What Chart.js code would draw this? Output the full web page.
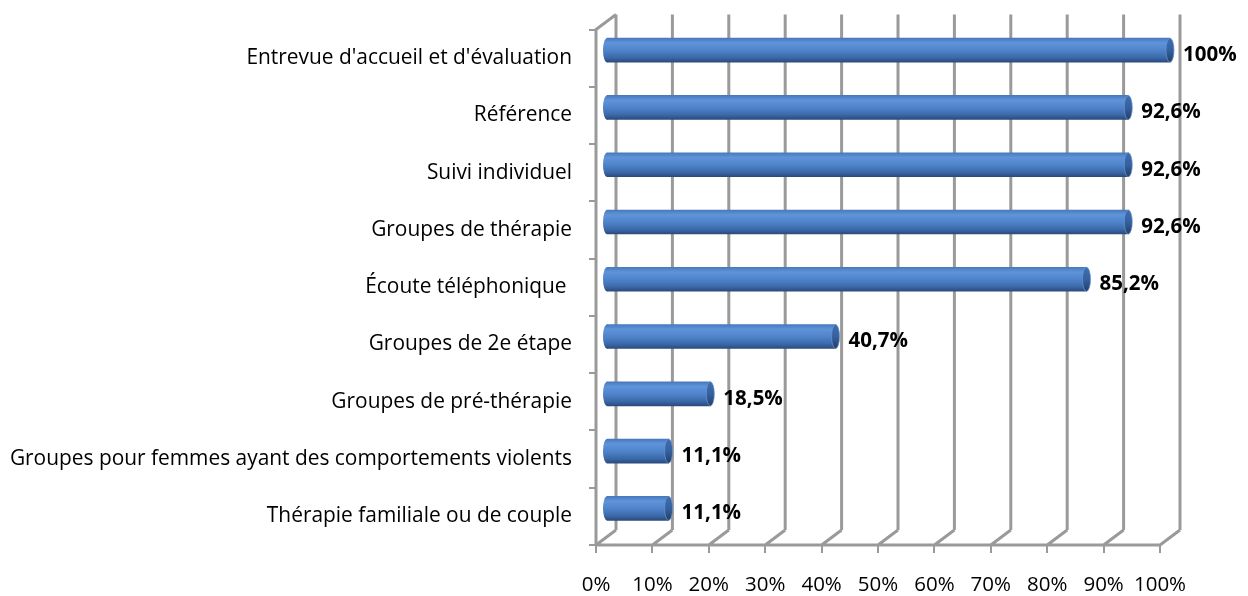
<!DOCTYPE html>
<html>
<head>
<meta charset="utf-8">
<script src="https://cdn.jsdelivr.net/npm/chart.js@4"></script>
<style>
  html, body { margin: 0; padding: 0; background: #fff; }
  canvas { display: block; }
</style>
</head>
<body>
<canvas id="chart" width="1248" height="596"></canvas>
<script>
// categories (top to bottom) and percentages
const categories = [
    "Entrevue d'accueil et d'évaluation",
    "Référence",
    "Suivi individuel",
    "Groupes de thérapie",
    "Écoute téléphonique ",
    "Groupes de 2e étape",
    "Groupes de pré-thérapie",
    "Groupes pour femmes ayant des comportements violents",
    "Thérapie familiale ou de couple"
];
const values = [100, 92.6, 92.6, 92.6, 85.2, 40.7, 18.5, 11.1, 11.1];
const xTickLabels = ['0%', '10%', '20%', '30%', '40%', '50%', '60%', '70%', '80%', '90%', '100%'];

// perspective offsets of the fake 3d frame
const DEPTH_X = 20, DEPTH_Y = -15;   // back wall
const BAR_X = 10, BAR_Y = -8;        // bars sit half way in

const FONT = '"Open Sans", sans-serif';
const BAR_H = 24;

const fmt = (v) => (v === 100 ? '100' : v.toFixed(1).replace('.', ',')) + '%';

const gradient = (ctx, top, h, stops) => {
    const g = ctx.createLinearGradient(0, top, 0, top + h);
    stops.forEach(s => g.addColorStop(s[0], s[1]));
    return g;
};
const bodyStops = [[0, '#4879bd'], [0.2, '#5f94da'], [0.5, '#4f84cb'], [0.8, '#3c6aab'], [1, '#2a4b7c']];
const capStops = [[0, '#3f6db0'], [0.5, '#35619f'], [1, '#223f6a']];

const barFill = (c) => {
    const chart = c.chart;
    if (!chart.chartArea || !chart.scales.y) return '#4f81bd';
    const y = chart.scales.y.getPixelForValue(c.dataIndex);
    return gradient(chart.ctx, y - BAR_H / 2, BAR_H, bodyStops);
};

const frame3d = {
    id: 'frame3d',
    beforeDatasetsDraw(chart) {
        const {ctx, chartArea: a, scales: {x}} = chart;
        ctx.save();
        ctx.strokeStyle = '#9a9a9a';
        ctx.lineWidth = 3;
        ctx.beginPath();
        x.ticks.forEach(t => {
            const fx = x.getPixelForValue(t.value);
            // back wall line
            ctx.moveTo(fx + DEPTH_X, a.top + DEPTH_Y);
            ctx.lineTo(fx + DEPTH_X, a.bottom + DEPTH_Y);
            // floor
            ctx.moveTo(fx, a.bottom);
            ctx.lineTo(fx + DEPTH_X, a.bottom + DEPTH_Y);
        });
        ctx.moveTo(a.left, a.bottom);
        ctx.lineTo(a.right, a.bottom);
        // left wall
        ctx.moveTo(a.left, a.bottom);
        ctx.lineTo(a.left, a.top);
        ctx.lineTo(a.left + DEPTH_X, a.top + DEPTH_Y);
        ctx.stroke();
        ctx.restore();

        // bars are drawn pushed into the depth
        ctx.save();
        ctx.translate(BAR_X, BAR_Y);
    },
    afterDatasetsDraw(chart) {
        const ctx = chart.ctx;
        const bars = chart.getDatasetMeta(0).data;
        bars.forEach(b => {
            const p = b.getProps(['x', 'y', 'base', 'height'], true);
            const top = p.y - p.height / 2;
            // rounded back end
            ctx.fillStyle = gradient(ctx, top, p.height, bodyStops);
            ctx.beginPath();
            ctx.ellipse(p.base, p.y, 4, p.height / 2, 0, 0, Math.PI * 2);
            ctx.fill();
            // cap at the end
            ctx.fillStyle = gradient(ctx, top, p.height, capStops);
            ctx.beginPath();
            ctx.ellipse(p.x, p.y, 4, p.height / 2, 0, 0, Math.PI * 2);
            ctx.fill();
            ctx.strokeStyle = 'rgba(110,150,205,0.7)';
            ctx.lineWidth = 1;
            ctx.stroke();
        });
        ctx.restore();

        // value labels
        ctx.save();
        ctx.fillStyle = '#000';
        ctx.font = 'bold 20.5px ' + FONT;
        ctx.textAlign = 'left';
        ctx.textBaseline = 'middle';
        bars.forEach((b, i) => {
            const p = b.getProps(['x', 'y'], true);
            ctx.fillText(fmt(values[i]), p.x + BAR_X + 13, p.y + BAR_Y + 5);
        });
        ctx.restore();
    }
};

new Chart(document.getElementById('chart'), {
    type: 'bar',
    data: {
        labels: categories,
        datasets: [{
            data: values,
            backgroundColor: barFill,
            borderWidth: 0,
            barThickness: BAR_H,
            clip: false
        }]
    },
    options: {
        indexAxis: 'y',
        responsive: false,
        animation: false,
        devicePixelRatio: 1,
        layout: { padding: { top: 28, right: 88, left: 0, bottom: 0 } },
        plugins: {
            legend: { display: false },
            tooltip: { enabled: false }
        },
        scales: {
            x: {
                min: 0,
                max: 100,
                afterFit: (s) => { s.height = 51; },
                border: { display: false },
                grid: { drawOnChartArea: false, tickLength: 8, color: '#9a9a9a', lineWidth: 2 },
                ticks: {
                    stepSize: 10,
                    padding: 20,
                    color: '#000',
                    font: { family: FONT, size: 20.5 },
                    maxRotation: 0,
                    callback: (v, i) => xTickLabels[i]
                }
            },
            y: {
                afterFit: (s) => { s.width = 596; },
                border: { display: false },
                grid: { offset: true, drawOnChartArea: false, tickLength: 7, color: '#9a9a9a', lineWidth: 2 },
                ticks: {
                    padding: 17,
                    color: '#000',
                    font: { family: FONT, size: 20.9 }
                }
            }
        }
    },
    plugins: [frame3d]
});
</script>
</body>
</html>
